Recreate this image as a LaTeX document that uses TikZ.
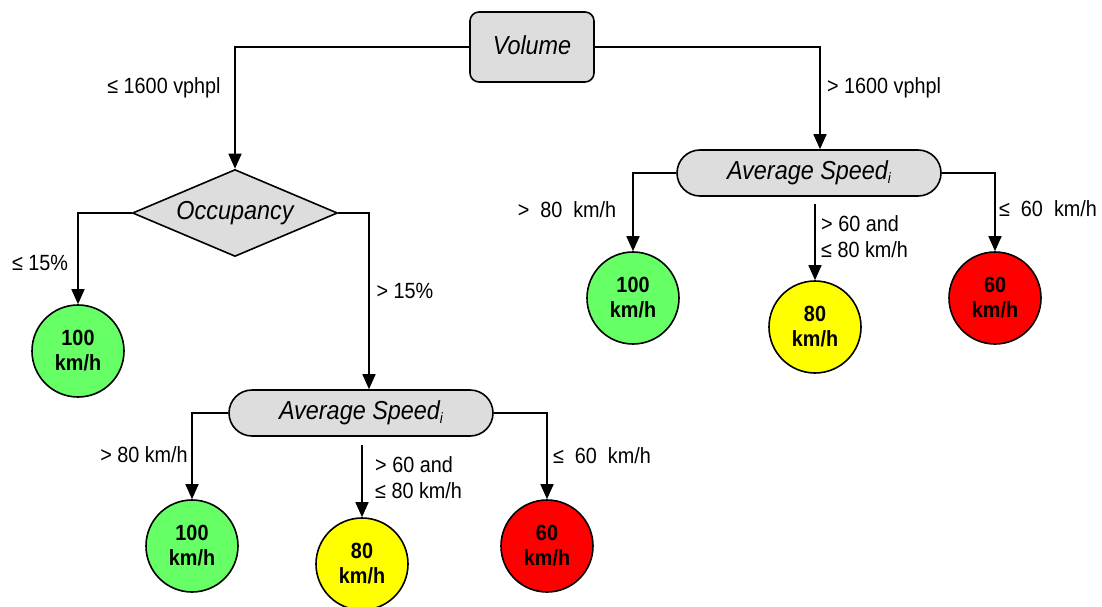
\documentclass[tikz,border=0pt]{standalone}
\usepackage{fontspec}
\setmainfont{Liberation Sans}[FakeStretch=0.9]
\usetikzlibrary{arrows.meta,shapes.geometric,shapes.misc}

\definecolor{boxgray}{HTML}{DDDDDD}
\definecolor{okgreen}{HTML}{66FF66}
\definecolor{midyellow}{HTML}{FFFF00}
\definecolor{lowred}{HTML}{FF0000}

\newcommand{\speedlabel}{Average Speed\raisebox{-4pt}{\fontsize{15}{17}\selectfont i}}

\tikzset{
  decision/.style={draw, line width=1.6pt, fill=boxgray, inner sep=0pt,
    font=\fontsize{26}{30}\selectfont\itshape},
  volbox/.style={rectangle, rounded corners=9pt, minimum width=124pt, minimum height=70pt},
  speedbox/.style={rounded rectangle, minimum width=264pt, minimum height=46pt},
  diambox/.style={diamond, aspect=2.36, minimum width=205pt, minimum height=87pt},
  outcome/.style={circle, draw, line width=1.6pt, minimum size=92pt, inner sep=0pt,
    align=center, font=\fontsize{22}{25}\selectfont\bfseries},
  lab/.style={font=\fontsize{22}{26}\selectfont, inner sep=0pt},
  arr/.style={line width=1.6pt, -{Triangle[length=15pt,width=13pt]}}
}

\begin{document}
\begin{tikzpicture}[x=1pt,y=-1pt]
\useasboundingbox (0,0) rectangle (1102,607);

% decision nodes
\node[decision,volbox] (vol) at (532,47) {\raisebox{4pt}{Volume}};
\node[decision,diambox] (occ) at (235,213) {Occupancy};
\node[decision,speedbox] (sp1) at (809,173) {\speedlabel};
\node[decision,speedbox] (sp2) at (361,413) {\speedlabel};

% speed-limit outcomes
\node[outcome, fill=okgreen] (g1) at (78,351) {100\\km/h};
\node[outcome, fill=okgreen] (g2) at (633,298) {100\\km/h};
\node[outcome, fill=midyellow] (y2) at (815,327) {80\\km/h};
\node[outcome, fill=lowred] (r2) at (995,298) {60\\km/h};
\node[outcome, fill=okgreen] (g3) at (192,546) {100\\km/h};
\node[outcome, fill=midyellow] (y3) at (362,564) {80\\km/h};
\node[outcome, fill=lowred] (r3) at (547,546) {60\\km/h};

% connectors
\draw[arr] (vol.west) -| (occ.north);
\draw[arr] (vol.east) -| ([xshift=11pt]sp1.north);
\draw[arr] (occ.west) -| (g1.north);
\draw[arr] (occ.east) -| ([xshift=8pt]sp2.north);
\draw[arr] (sp1.west) -| (g2.north);
\draw[arr] ([yshift=-7pt]sp1.south -| y2.north) -- (y2.north);
\draw[arr] (sp1.east) -| (r2.north);
\draw[arr] (sp2.west) -| (g3.north);
\draw[arr] ([yshift=-8pt]sp2.south -| y3.north) -- (y3.north);
\draw[arr] (sp2.east) -| (r3.north);

% branch conditions
\node[lab] (l1) at (164,88) {≤ 1600 vphpl};
\node[lab] (l2) at (884,88) {> 1600 vphpl};
\node[lab] (l3) at (40,263) {≤ 15\%};
\node[lab] (l4) at (405,291) {> 15\%};
\node[lab] (l5) at (567,210) {>\ \ 80\ \ km/h};
\node[lab, anchor=west, align=left] (l6) at (821,237) {> 60 and\\≤ 80 km/h};
\node[lab] (l7) at (1048,209) {≤\ \ 60\ \ km/h};
\node[lab] (l8) at (144,455) {> 80 km/h};
\node[lab, anchor=west, align=left] (l9) at (375,478) {> 60 and\\≤ 80 km/h};
\node[lab] (l10) at (602,456) {≤\ \ 60\ \ km/h};
\end{tikzpicture}
\end{document}
